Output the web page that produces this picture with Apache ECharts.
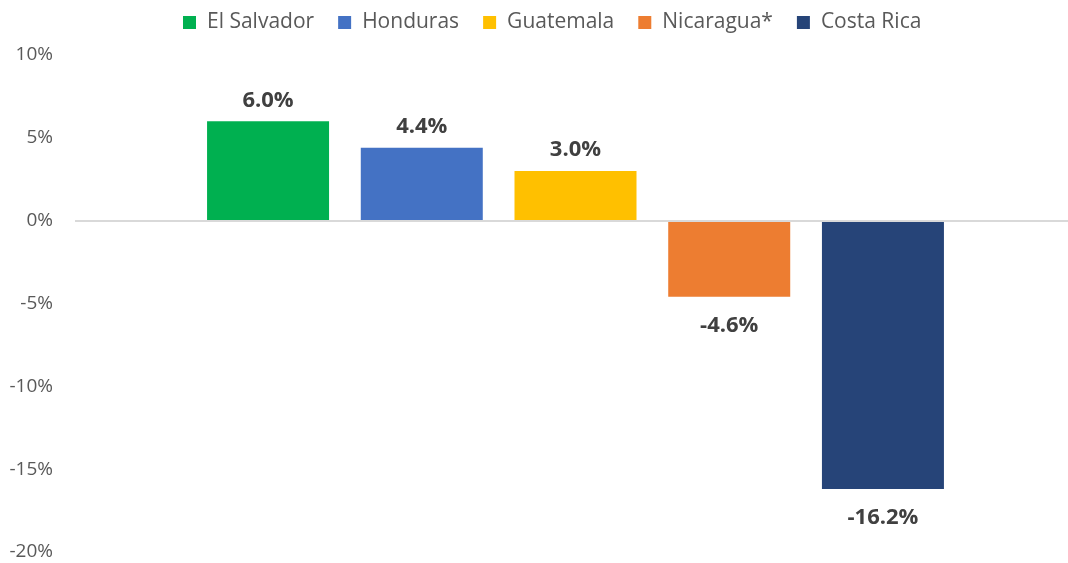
<!DOCTYPE html>
<html>
<head>
<meta charset="utf-8">
<script src="https://cdn.jsdelivr.net/npm/echarts@6/dist/echarts.min.js"></script>
<style>
  html, body { margin: 0; padding: 0; background: #fff; }
  #chart1 { width: 1068px; height: 563px; }
</style>
</head>
<body>
<div id="chart1"></div>
<script>
const countries = ['El Salvador', 'Honduras', 'Guatemala', 'Nicaragua*', 'Costa Rica']
const values = [6.0, 4.4, 3.0, -4.6, -16.2]
const colors = ['#00B050', '#4472C4', '#FFC000', '#ED7D31', '#264478']
const yTicks = [-20, -15, -10, -5, 0, 5, 10]

const font = '"Open Sans", "Noto Sans", sans-serif'

let charts = echarts.init(document.getElementById('chart1'))
let option = {
  animation: false,
  legend: {
    top: 7,
    left: 178,
    itemWidth: 13,
    itemHeight: 13,
    itemGap: 24,
    icon: 'rect',
    textStyle: { fontFamily: font, fontSize: 21, color: '#595959', padding: [0, 0, 0, 6] },
    data: countries
  },
  grid: { left: 75, top: 55, right: -8, bottom: 11, outerBoundsMode: 'none' },
  xAxis: {
    type: 'category',
    data: [''],
    axisLine: { show: false },
    axisTick: { show: false },
    axisLabel: { show: false }
  },
  yAxis: {
    type: 'value',
    min: yTicks[0],
    max: yTicks[yTicks.length - 1],
    interval: 5,
    axisLine: { show: false },
    axisTick: { show: false },
    splitLine: { show: false },
    axisLabel: {
      margin: 22,
      fontFamily: font,
      fontSize: 19,
      color: '#595959',
      formatter: '{value}%'
    }
  },
  series: countries.map(function (name, i) {
    let s = {
      name: name,
      type: 'bar',
      barWidth: 122,
      barGap: '26%',
      itemStyle: { color: colors[i] },
      data: [values[i]],
      label: {
        show: true,
        position: values[i] >= 0 ? 'top' : 'bottom',
        distance: values[i] >= 0 ? 10 : 18,
        fontFamily: font,
        fontSize: 22,
        fontWeight: 'bold',
        color: '#404040',
        formatter: function (p) { return p.value.toFixed(1) + '%' }
      }
    }
    if (i === 0) {
      s.markLine = {
        silent: true,
        symbol: 'none',
        label: { show: false },
        lineStyle: { color: '#d9d9d9', width: 2, type: 'solid' },
        data: [{ yAxis: 0 }]
      }
    }
    return s
  })
}
charts.setOption(option)
window.addEventListener('resize', function () {
  charts.resize()
})
</script>
</body>
</html>
